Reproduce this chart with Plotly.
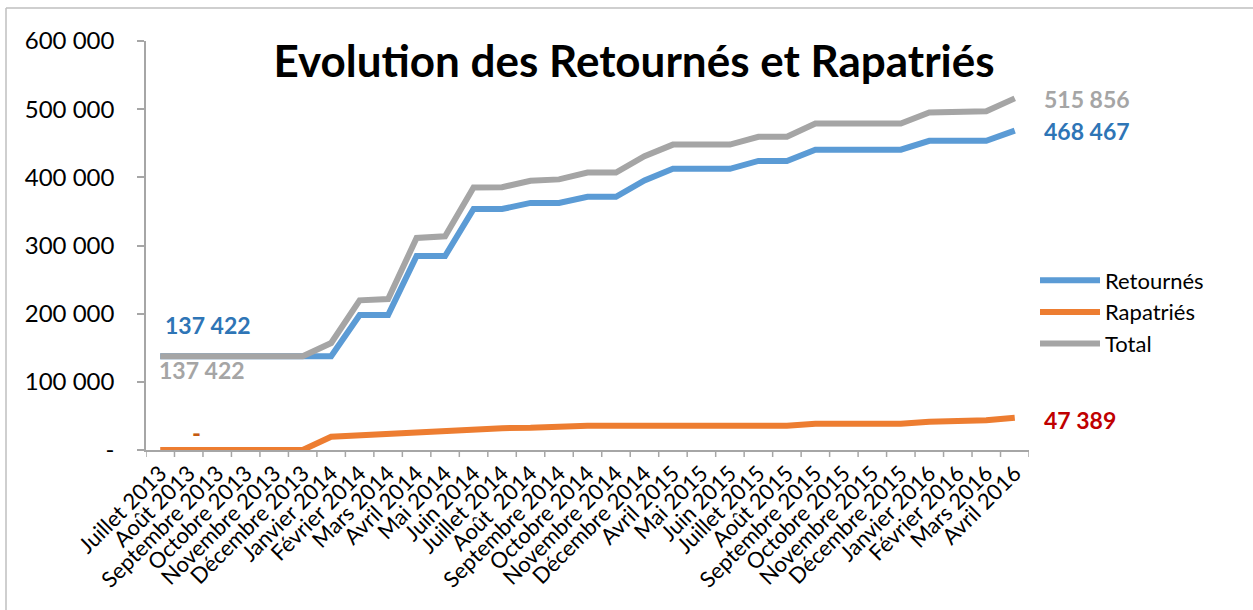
import plotly.graph_objects as go

categories = [
    "Juillet 2013", "Août 2013", "Septembre 2013", "Octobre 2013", "Novembre 2013",
    "Décembre 2013", "Janvier 2014", "Février 2014", "Mars 2014", "Avril 2014",
    "Mai 2014", "Juin 2014", "Juillet 2014", "Août  2014", "Septembre 2014",
    "Octobre 2014", "Novembre 2014", "Décembre 2014", "Avril 2015", "Mai 2015",
    "Juin 2015", "Juillet 2015", "Août 2015", "Septembre 2015", "Octobre 2015",
    "Novembre 2015", "Décembre 2015", "Janvier 2016", "Février 2016", "Mars 2016",
    "Avril 2016",
]

retournes = [
    137422, 137422, 137422, 137422, 137422, 137422, 137422, 198000, 198000, 284600,
    284600, 353500, 353500, 362500, 362500, 371500, 371500, 395500, 412500, 412500,
    412500, 424000, 424000, 440500, 440500, 440500, 440500, 453500, 453500, 453500,
    468467,
]

rapatries = [
    0, 0, 0, 0, 0, 0, 19500, 21500, 23500, 26500,
    29000, 31500, 32000, 32500, 34500, 35500, 35500, 35500, 35500, 35500,
    35500, 35500, 35500, 38500, 38500, 38500, 38500, 41500, 41500, 43500,
    47389,
]

total = [
    137422, 137422, 137422, 137422, 137422, 137422, 156922, 219500, 221500, 311100,
    313600, 385000, 385500, 395000, 397000, 407000, 407000, 431000, 448000, 448000,
    448000, 459500, 459500, 479000, 479000, 479000, 479000, 495000, 495000, 497000,
    515856,
]

y_ticks = [0, 100000, 200000, 300000, 400000, 500000, 600000]
y_tick_text = ["-", "100 000", "200 000", "300 000", "400 000", "500 000", "600 000"]

FONT = "Lato, Calibri, sans-serif"
BLUE = "#5B9BD5"
ORANGE = "#ED7D31"
GRAY = "#A5A5A5"

xs = list(range(len(categories)))

fig = go.Figure()
fig.add_trace(go.Scatter(x=xs, y=retournes, name="Retournés", mode="lines",
                         line=dict(color=BLUE, width=6)))
fig.add_trace(go.Scatter(x=xs, y=rapatries, name="Rapatriés", mode="lines",
                         line=dict(color=ORANGE, width=6)))
fig.add_trace(go.Scatter(x=xs, y=total, name="Total", mode="lines",
                         line=dict(color=GRAY, width=6)))

last = len(categories) - 1
ann = [
    dict(x=0, y=183000, text="<b>137 422</b>", color="#2E75B6", xshift=3),
    dict(x=0, y=118000, text="<b>137 422</b>", color=GRAY, xshift=-3),
    dict(x=last, y=515000, text="<b>515 856</b>", color=GRAY, xshift=27),
    dict(x=last, y=468000, text="<b>468 467</b>", color="#2E75B6", xshift=27),
    dict(x=last, y=44500, text="<b>47 389</b>", color="#C00000", xshift=27),
]
for a in ann:
    fig.add_annotation(x=a["x"], y=a["y"], text=a["text"], showarrow=False,
                       xanchor="left", yanchor="middle", xshift=a["xshift"],
                       font=dict(family=FONT, size=23, color=a["color"]))
fig.add_annotation(x=1, y=25000, text="<b>-</b>", showarrow=False, xanchor="center",
                   yanchor="middle", xshift=8,
                   font=dict(family=FONT, size=24, color="#C55A11"))

fig.update_layout(
    width=1253, height=610,
    margin=dict(l=146, r=224, t=41, b=160),
    paper_bgcolor="white", plot_bgcolor="white",
    font=dict(family=FONT, size=21, color="black"),
    title=dict(text="<b>Evolution des Retournés et Rapatriés</b>",
               x=634 / 1253, xanchor="center", y=1 - 62 / 610, yanchor="middle",
               font=dict(family=FONT, size=44, color="black")),
    showlegend=True,
    legend=dict(x=1.0 + 6 / 883, xanchor="left", xref="paper", y=(450 - 312) / 409,
                yanchor="middle",
                font=dict(family=FONT, size=22, color="black"),
                bgcolor="rgba(0,0,0,0)", itemwidth=60, tracegroupgap=0),
    xaxis=dict(range=[-0.5, last + 0.5], tickmode="array", tickvals=xs,
               ticktext=categories, tickangle=-45, showgrid=False, zeroline=False,
               showline=True, linecolor="#A6A6A6", linewidth=1.5,
               ticks="", tickfont=dict(family=FONT, size=22, color="black")),
    yaxis=dict(range=[0, 600000], tickmode="array", tickvals=y_ticks,
               ticktext=y_tick_text, showgrid=False, zeroline=False,
               showline=True, linecolor="#A6A6A6", linewidth=1.5,
               ticks="outside", ticklen=7, tickcolor="#A6A6A6", tickwidth=1.5,
               ticklabelstandoff=18,
               tickfont=dict(family=FONT, size=24, color="black")),
)

# category boundary tick marks below the x axis
for i in range(len(categories) + 1):
    fig.add_shape(type="line", xref="x", yref="paper", x0=i - 0.5, x1=i - 0.5,
                  y0=0, y1=-7 / 409, line=dict(color="#A6A6A6", width=1.5))

# chart area frame (top and left edges)
pw = 1253 - 146 - 224
ph = 610 - 41 - 160
fig.add_shape(type="line", xref="paper", yref="paper",
              x0=(6 - 146) / pw, x1=(1253 - 146) / pw,
              y0=(610 - 160 - 8) / ph, y1=(610 - 160 - 8) / ph,
              line=dict(color="#BFBFBF", width=1.5))
fig.add_shape(type="line", xref="paper", yref="paper",
              x0=(6 - 146) / pw, x1=(6 - 146) / pw,
              y0=(610 - 160 - 8) / ph, y1=-160 / ph,
              line=dict(color="#BFBFBF", width=1.5))

fig.write_html("out.html", config={"displayModeBar": False},
               post_script="document.body.style.margin='0';document.body.style.overflow='hidden';")
